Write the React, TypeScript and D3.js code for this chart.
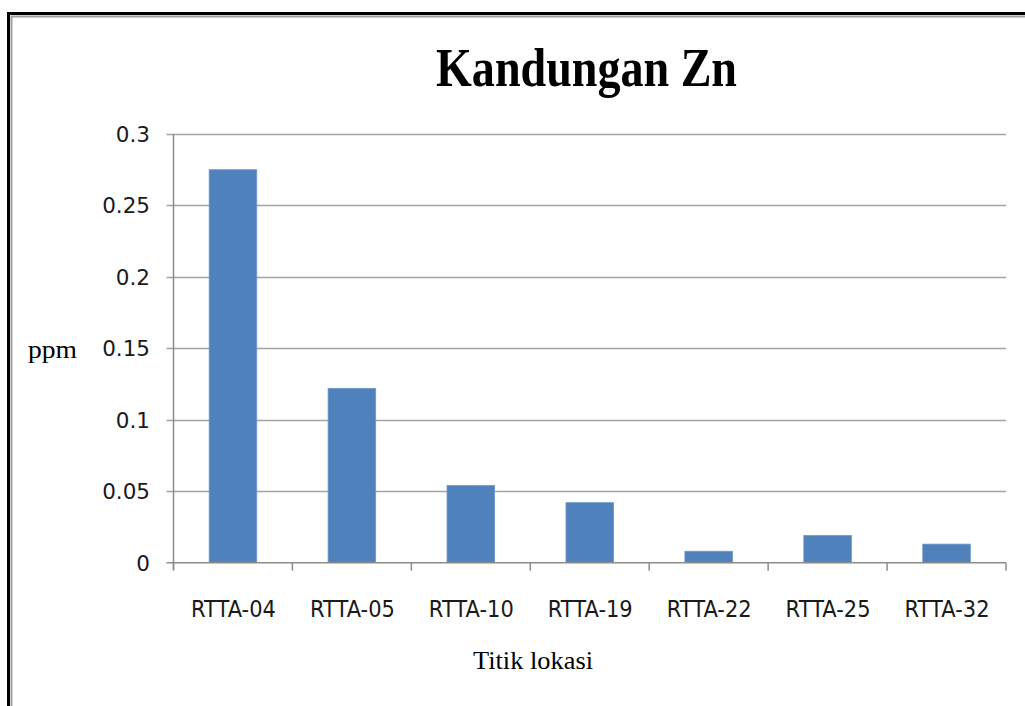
import React, { useEffect, useRef } from 'react';
import * as d3 from 'd3';

const categories = ['RTTA-04', 'RTTA-05', 'RTTA-10', 'RTTA-19', 'RTTA-22', 'RTTA-25', 'RTTA-32'];
const zincValues = [0.275, 0.122, 0.054, 0.042, 0.008, 0.019, 0.013];
const yTicks = [0, 0.05, 0.1, 0.15, 0.2, 0.25, 0.3];
const yTickLabels = ['0', '0.05', '0.1', '0.15', '0.2', '0.25', '0.3'];

const W = 1025;
const H = 706;

export default function App() {
  const ref = useRef<SVGSVGElement>(null);

  useEffect(() => {
    const svg = d3.select(ref.current);
    svg.selectAll('*').remove();

    const left = 173.5;
    const right = 1006;
    const top = 134;
    const bottom = 562.7;

    // outer frame (black + grey inner)
    svg.append('path')
      .attr('d', `M8.5,${H + 5} V13.5 H${W + 5}`)
      .attr('fill', 'none').attr('stroke', '#000').attr('stroke-width', 3);
    svg.append('path')
      .attr('d', `M11.5,${H + 5} V16.5 H${W + 5}`)
      .attr('fill', 'none').attr('stroke', '#a0a0a0').attr('stroke-width', 2);

    const y = d3.scaleLinear().domain([0, 0.3]).range([bottom, top]);
    const x = d3.scaleBand<string>().domain(categories).range([left, right])
      .paddingInner(0.6).paddingOuter(0.3);
    const xb = d3.scaleBand<string>().domain(categories).range([left, right]).padding(0);

    // gridlines
    svg.append('g').selectAll('line')
      .data(yTicks.filter(t => t > 0))
      .enter().append('line')
      .attr('x1', left - 7).attr('x2', right)
      .attr('y1', d => Math.round(y(d)) + 0.5).attr('y2', d => Math.round(y(d)) + 0.5)
      .attr('stroke', '#a3a3a3').attr('stroke-width', 1.3);

    // bars
    svg.append('g').selectAll('rect')
      .data(zincValues)
      .enter().append('rect')
      .attr('x', (d, i) => x(categories[i])!)
      .attr('y', d => y(d))
      .attr('width', x.bandwidth())
      .attr('height', d => bottom - y(d))
      .attr('fill', '#4f81bd')
      .attr('stroke', '#6d96c8').attr('stroke-width', 0.8);

    // y axis
    svg.append('line')
      .attr('x1', left).attr('x2', left).attr('y1', top).attr('y2', bottom + 7)
      .attr('stroke', '#8c8c8c').attr('stroke-width', 1.5);
    svg.append('line')
      .attr('x1', left - 7).attr('x2', right).attr('y1', bottom).attr('y2', bottom)
      .attr('stroke', '#8c8c8c').attr('stroke-width', 1.5);

    // x ticks at category boundaries
    const bounds = categories.map(c => xb(c)!).concat([right]);
    svg.append('g').selectAll('line')
      .data(bounds)
      .enter().append('line')
      .attr('x1', d => d).attr('x2', d => d)
      .attr('y1', bottom).attr('y2', bottom + 8)
      .attr('stroke', '#8c8c8c').attr('stroke-width', 1.5);

    // y tick labels
    svg.append('g').selectAll('text')
      .data(yTicks)
      .enter().append('text')
      .attr('x', 150)
      .attr('y', d => y(d) + 8)
      .attr('text-anchor', 'end')
      .attr('font-family', 'DejaVu Sans, sans-serif')
      .attr('font-size', 21.5)
      .attr('fill', '#1a1a1a')
      .text((d, i) => yTickLabels[i]);

    // x tick labels
    svg.append('g').selectAll('text')
      .data(categories)
      .enter().append('text')
      .attr('x', d => x(d)! + x.bandwidth() / 2 - 42)
      .attr('y', 617)
      .attr('textLength', 85)
      .attr('lengthAdjust', 'spacingAndGlyphs')
      .attr('font-family', 'DejaVu Sans, sans-serif')
      .attr('font-size', 22.5)
      .attr('fill', '#1a1a1a')
      .text(d => d);

    // title
    svg.append('text')
      .attr('x', 436).attr('y', 86)
      .attr('textLength', 301)
      .attr('lengthAdjust', 'spacingAndGlyphs')
      .attr('font-family', 'Liberation Serif, Times New Roman, serif')
      .attr('font-weight', 'bold')
      .attr('font-size', 55)
      .attr('fill', '#000')
      .text('Kandungan Zn');

    // axis titles
    svg.append('text')
      .attr('x', 28).attr('y', 358)
      .attr('textLength', 49)
      .attr('lengthAdjust', 'spacingAndGlyphs')
      .attr('font-family', 'Liberation Serif, Times New Roman, serif')
      .attr('font-size', 25)
      .attr('fill', '#000')
      .text('ppm');

    svg.append('text')
      .attr('x', 473).attr('y', 669)
      .attr('textLength', 120)
      .attr('lengthAdjust', 'spacingAndGlyphs')
      .attr('font-family', 'Liberation Serif, Times New Roman, serif')
      .attr('font-size', 25)
      .attr('fill', '#000')
      .text('Titik lokasi');
  }, []);

  return (
    <svg
      ref={ref}
      width={W}
      height={H}
      style={{ position: 'absolute', left: 0, top: 0, background: '#fff' }}
    />
  );
}
